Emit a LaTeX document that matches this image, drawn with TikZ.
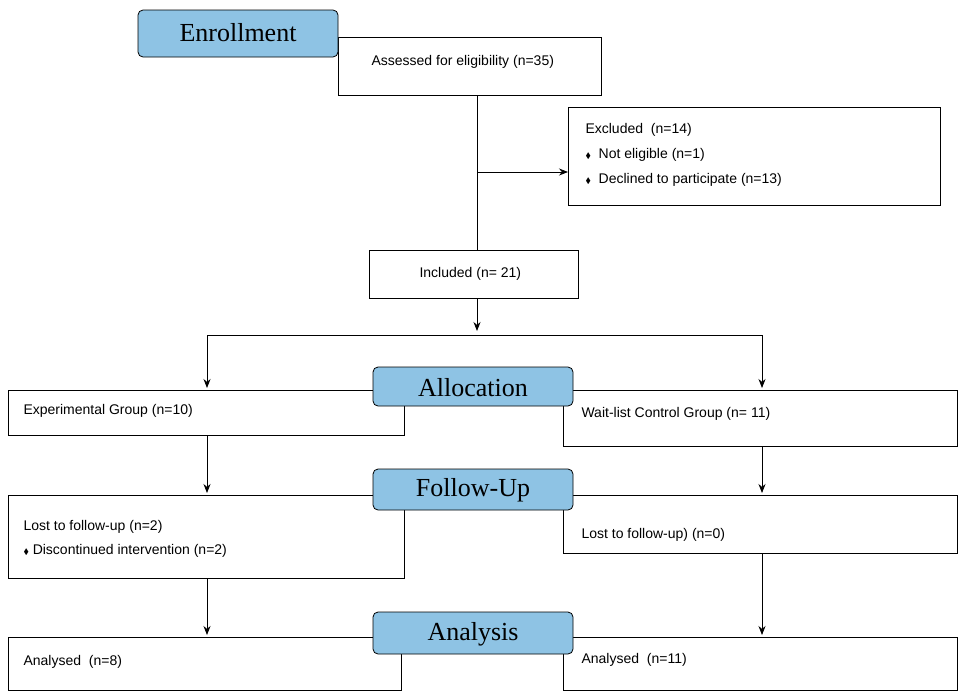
\documentclass[tikz,border=0pt]{standalone}
\usepackage{amssymb}
\usepackage{fontspec}
\setmainfont{Liberation Sans}
\newfontfamily\hdr{Liberation Serif}
\usetikzlibrary{arrows.meta}
\definecolor{hblue}{HTML}{8EC3E4}
\newcommand{\dmd}{{\fontsize{8}{8}\selectfont$\blacklozenge$}}
\begin{document}
\begin{tikzpicture}[x=1pt,y=-1pt,
  box/.style={draw,line width=0.8pt,fill=white,inner sep=0pt},
  hd/.style={draw,line width=0.8pt,fill=hblue,rounded corners=5pt},
  txt/.style={anchor=west,font=\fontsize{14}{17}\selectfont,align=left},
  htxt/.style={font=\hdr\fontsize{26}{28}\selectfont},
  arr/.style={-{Stealth[length=9pt,width=7pt]},line width=0.8pt},
  ln/.style={line width=0.8pt}]
\useasboundingbox (0,0) rectangle (965,699);
% boxes
\draw[box] (338,37) rectangle (601,95); \node[txt] (assess) at (368,62) {Assessed for eligibility (n=35)};
\draw[box] (568,107) rectangle (940,205); \coordinate (excl) at (568,172);
\node[txt] (ex1) at (582,130) {Excluded\ \ (n=14)};
\node[txt] (ex2) at (582,155) {\dmd\ \ Not eligible (n=1)};
\node[txt] (ex3) at (582,180) {\dmd\ \ Declined to participate (n=13)};
\draw[box] (369,250) rectangle (578,298); \node[txt] (inc) at (416,274) {Included (n= 21)};
\draw[box] (8,390) rectangle (404,435); \node[txt] (exp) at (20,411) {Experimental Group (n=10)};
\draw[box] (563,390) rectangle (957,446); \node[txt] (wl) at (578,414) {Wait-list Control Group (n= 11)};
\draw[box] (8,495) rectangle (404,578);
\node[txt] (l1) at (20,527) {Lost to follow-up (n=2)};
\node[txt] (l2) at (20,551) {\dmd\ Discontinued intervention (n=2)};
\draw[box] (563,495) rectangle (957,553); \node[txt] (l3) at (578,535) {Lost to follow-up) (n=0)};
\draw[box] (8,637) rectangle (401,690); \node[txt] (an1) at (20,662) {Analysed\ \ (n=8)};
\draw[box] (563,637) rectangle (957,690); \node[txt] (an2) at (578,660) {Analysed\ \ (n=11)};
% headers
\draw[hd] (138,10) rectangle (338,57); \node[htxt] (h1) at (238,33) {Enrollment};
\draw[hd] (373,367) rectangle (573,406); \node[htxt] (h2) at (473,388) {Allocation};
\draw[hd] (373,469) rectangle (573,510); \node[htxt] (h3) at (473,490) {Follow-Up};
\draw[hd] (373,612) rectangle (573,654); \node[htxt] (h4) at (473,634) {Analysis};
% connectors
\coordinate (a1) at (477,95); \coordinate (a2) at (477,250); \coordinate (b) at (477,172);
\draw[ln] (a1) -- (a2); \draw[arr] (b) -- (excl);
\coordinate (c1) at (477,298); \coordinate (c2) at (477,331);
\draw[arr] (c1) -- (c2);
\coordinate (L) at (207,335); \coordinate (R) at (762,335);
\draw[ln] (L) -- (R);
\draw[arr] (L) -- (207,388);
\draw[arr] (R) -- (762,388);
\draw[arr] (207,435) -- (207,493);
\draw[arr] (762,446) -- (762,493);
\draw[arr] (207,578) -- (207,635);
\draw[arr] (762,553) -- (762,635);
\end{tikzpicture}
\end{document}
